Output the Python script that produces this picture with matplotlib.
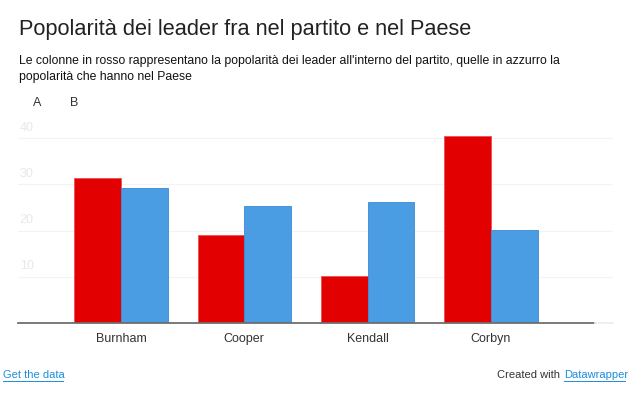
import matplotlib.pyplot as plt
import numpy as np

plt.rcParams['font.family'] = ['Liberation Sans', 'DejaVu Sans']

# Data
leaders = ['Burnham', 'Cooper', 'Kendall', 'Corbyn']
partito = [31.4, 19.1, 10.2, 40.5]   # A - popolarità nel partito (rosso)
paese = [29.2, 25.4, 26.3, 20.2]     # B - popolarità nel Paese (azzurro)
yticks = [10, 20, 30, 40]

W, H = 630, 417
fig = plt.figure(figsize=(W / 100, H / 100), dpi=100)

# axes placed in pixel coordinates
left, right, bottom, top = 18, 613, 323, 129
ax = fig.add_axes([left / W, 1 - bottom / H, (right - left) / W, (bottom - top) / H])

x = np.arange(len(leaders))
bw = 0.378
ax.bar(x - bw / 2, partito, bw, color='#e30000', edgecolor='#f05050', linewidth=0.6, zorder=3)
ax.bar(x + bw / 2, paese, bw, color='#4b9de3', edgecolor='#3a8ad4', linewidth=0.6, zorder=3)

ax.set_xlim(-0.835, 3.99)
ax.set_ylim(0, 42)
for s in ax.spines.values():
    s.set_visible(False)
ax.set_xticks([])
ax.set_yticks([])

# gridlines and faint tick labels
for t in yticks:
    ax.axhline(t, color='#f3f3f3', linewidth=0.8, zorder=1)
    ax.text(0.003, t + 1.0, str(t), transform=ax.get_yaxis_transform(),
            fontsize=9, color='#e8e8e8', ha='left', va='bottom')

# baseline
ax.plot([-0.835, 3.843], [0, 0], color='#6e6e6e', linewidth=1.3, zorder=4, clip_on=False)
ax.plot([3.843, 3.99], [0, 0], color='#eeeeee', linewidth=1.3, zorder=4, clip_on=False)

for i, name in enumerate(leaders):
    ax.text(i, -2.2, name, ha='center', va='top', fontsize=9, color='#333333')

# titles
fig.text(19 / W, 1 - 30 / H, 'Popolarità dei leader fra nel partito e nel Paese',
         fontsize=15.7, color='#222222', va='center')
fig.text(19 / W, 1 - 69 / H,
         "Le colonne in rosso rappresentano la popolarità dei leader all'interno del partito, quelle in azzurro la\npopolarità che hanno nel Paese",
         fontsize=8.85, color='#111111', va='center', linespacing=1.55)

# legend labels (no swatches)
fig.text(33 / W, 1 - 103 / H, 'A', fontsize=9, color='#333333', va='center')
fig.text(70 / W, 1 - 103 / H, 'B', fontsize=9, color='#333333', va='center')

# footer
fig.text(3 / W, 1 - 375 / H, 'Get the data', fontsize=8, color='#1a8fd8', va='center')
fig.text(497 / W, 1 - 375 / H, 'Created with', fontsize=8, color='#333333', va='center')
fig.text(564 / W, 1 - 375 / H, 'Datawrapper', fontsize=8, color='#1a8fd8', va='center')
fig.add_artist(plt.Line2D([3 / W, 63 / W], [1 - 380.5 / H, 1 - 380.5 / H], color='#1a8fd8', linewidth=0.7))
fig.add_artist(plt.Line2D([564 / W, 625 / W], [1 - 380.5 / H, 1 - 380.5 / H], color='#1a8fd8', linewidth=0.7))

fig.savefig('out.png', dpi=100, facecolor='white')
